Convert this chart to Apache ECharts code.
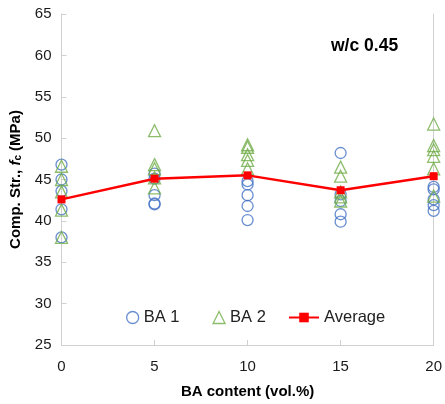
<!DOCTYPE html>
<html>
<head>
<meta charset="utf-8">
<script src="https://cdn.jsdelivr.net/npm/echarts@6/dist/echarts.min.js"></script>
<style>html,body{margin:0;padding:0;background:#fff}#c{width:445px;height:404px}</style>
</head>
<body>
<div id="c"></div>
<script>
const xTicks = [0, 5, 10, 15, 20];
const ba1 = [
  [46.8, 45.0, 43.6, 41.4, 38.0],
  [45.7, 45.1, 43.1, 42.1, 42.0],
  [44.8, 44.4, 43.1, 41.8, 40.1],
  [48.2, 43.2, 42.4, 40.8, 39.9],
  [44.1, 43.8, 42.6, 41.9, 41.2]
];
const ba2 = [
  [46.6, 45.0, 43.5, 41.3, 38.0],
  [50.9, 46.8, 46.3, 45.2, 44.0],
  [49.2, 48.9, 48.0, 47.3, 46.3],
  [46.5, 45.4, 43.5, 42.9, 42.4],
  [51.7, 49.1, 48.6, 47.8, 46.3, 43.0]
];
const average = [42.6, 45.1, 45.5, 43.7, 45.4];

const toPts = (groups) => groups.flatMap((g, i) => g.map(v => [xTicks[i], v]));
const FONT = 'Liberation Sans, Arial, sans-serif';
const legendText = { fontFamily: FONT, fontSize: 16.5, color: '#222' };

const chart = echarts.init(document.getElementById('c'));
chart.setOption({
  animation: false,
  textStyle: { fontFamily: FONT },
  grid: { left: 60.5, right: 11, top: 14, bottom: 58 },
  xAxis: {
    type: 'value', min: 0, max: 20, interval: 5,
    name: 'BA content (vol.%)', nameLocation: 'middle', nameGap: 39,
    nameTextStyle: { fontFamily: FONT, fontSize: 15, fontWeight: 'bold', color: '#000' },
    axisLine: { lineStyle: { color: '#d0d0d0', width: 1 } },
    axisTick: { inside: true, length: 5, lineStyle: { color: '#d0d0d0' } },
    axisLabel: { fontFamily: FONT, fontSize: 15, color: '#1a1a1a', margin: 14 },
    splitLine: { show: false }
  },
  yAxis: [{
    type: 'value', min: 25, max: 65, interval: 5,
    name: '{b|Comp. Str., }{i|f}{s|c}{b| (MPa)}', nameLocation: 'middle', nameGap: 38, nameRotate: 90,
    nameTextStyle: {
      rich: {
        b: { fontFamily: FONT, fontSize: 15, fontWeight: 'bold', color: '#000' },
        i: { fontFamily: FONT, fontSize: 15, fontWeight: 'bold', fontStyle: 'italic', color: '#000' },
        s: { fontFamily: FONT, fontSize: 10, fontWeight: 'bold', color: '#000', verticalAlign: 'bottom', padding: [6, 0, 0, 0] }
      }
    },
    axisLine: { show: true, lineStyle: { color: '#d0d0d0', width: 1 } },
    axisTick: { show: true, inside: true, length: 5, lineStyle: { color: '#d0d0d0' } },
    axisLabel: { fontFamily: FONT, fontSize: 15, color: '#1a1a1a', margin: 10 },
    splitLine: { show: false }
  }, {
    type: 'value', min: 25, max: 65, interval: 5, position: 'right',
    axisLine: { show: true, lineStyle: { color: '#d0d0d0', width: 1 } },
    axisTick: { show: false }, axisLabel: { show: false }, splitLine: { show: false }
  }],
  legend: [{
    top: 309, left: 126, padding: 0, itemGap: 33, itemWidth: 12, itemHeight: 12,
    textStyle: legendText,
    data: [
      { name: 'BA 1', itemStyle: { color: 'rgba(0,0,0,0)', borderColor: '#4472C4', borderWidth: 1.3 } },
      { name: 'BA 2', itemStyle: { color: 'rgba(0,0,0,0)', borderColor: '#70AD47', borderWidth: 1.3 } }
    ]
  }, {
    top: 309, left: 288, padding: 0, itemWidth: 30, itemHeight: 12,
    textStyle: legendText,
    data: [{ name: 'Average' }]
  }],
  graphic: [{
    type: 'text', left: 331, top: 37,
    style: { text: 'w/c 0.45', fontFamily: FONT, fontSize: 17.5, fontWeight: 'bold', fill: '#000' }
  }],
  series: [
    {
      name: 'BA 1', type: 'scatter', data: toPts(ba1), symbol: 'circle', symbolSize: 11,
      itemStyle: { color: 'rgba(0,0,0,0)', borderColor: '#4472C4', borderWidth: 1.3 }, z: 3
    },
    {
      name: 'BA 2', type: 'scatter', data: toPts(ba2), symbol: 'triangle', symbolSize: 12,
      itemStyle: { color: 'rgba(0,0,0,0)', borderColor: '#70AD47', borderWidth: 1.3 }, z: 4
    },
    {
      name: 'Average', type: 'line', data: xTicks.map((x, i) => [x, average[i]]),
      symbol: 'rect', symbolSize: 8, showAllSymbol: true,
      lineStyle: { color: '#FF0000', width: 2.5 }, itemStyle: { color: '#FF0000' }, z: 5
    }
  ]
});
</script>
</body>
</html>
